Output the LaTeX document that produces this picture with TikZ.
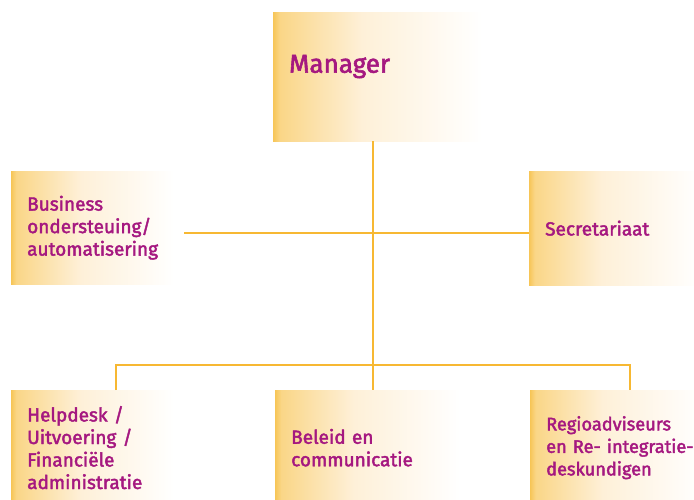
\documentclass[tikz,border=0pt]{standalone}
\usepackage{fontspec}
\setmainfont{Fira Sans}[FakeBold=2.2]
\usetikzlibrary{calc}

\definecolor{linkorange}{RGB}{247,184,50}
\definecolor{textmagenta}{RGB}{165,24,128}
\definecolor{fadeA}{RGB}{247,198,88}
\definecolor{fadeB}{RGB}{250,214,135}
\definecolor{fadeC}{RGB}{254,240,216}
\pgfdeclarehorizontalshading{boxfade}{100bp}{color(0bp)=(fadeA); color(25bp)=(fadeA); color(26.5bp)=(fadeB); color(45bp)=(fadeC); color(72bp)=(white); color(100bp)=(white)}

\begin{document}
\begin{tikzpicture}[x=1pt, y=-1pt,
	box/.style={shading=boxfade, anchor=north west, inner xsep=16pt, inner ysep=0pt, align=left, text=textmagenta, font=\fontsize{19}{22.5}\selectfont},
	link/.style={draw=linkorange, line width=1.5pt}]
	\useasboundingbox (0,0) rectangle (694,499);
	% top row
	\node (mgr) [box, text width=190pt, minimum height=129pt, font=\fontsize{26}{30}\selectfont, text height=19pt, text depth=27pt] at (273,12) {Manager};
	% staff row
	\node (bus) [box, text width=141pt, minimum height=113pt] at (11,171) {Business\\ondersteuing/\\automatisering};
	\node (sec) [box, text width=150pt, minimum height=114pt] at (529,171) {Secretariaat};
	% departments
	\node (hlp) [box, text width=141pt, minimum height=115pt] at (11,390) {Helpdesk /\\Uitvoering /\\Financiële\\administratie};
	\node (bel) [box, text width=164pt, minimum height=115pt] at (275,390) {Beleid en\\communicatie};
	\node (reg) [box, text width=150pt, minimum height=115pt, font=\fontsize{18.2}{22.5}\selectfont] at (530,390) {Regioadviseurs\\\mbox{en Re- integratie-}\\deskundigen};
	\coordinate (staff) at (373,233);
	\coordinate (fork) at (373,365);
	\draw[link] (mgr.south -| bel.north) -- (bel.north);
	\draw[link] (bus.east |- staff) -- (sec.west |- staff);
	\draw[link] ([xshift=18.5pt]hlp.north) |- (fork) -| (reg.north west -| 630,0);
\end{tikzpicture}
\end{document}
